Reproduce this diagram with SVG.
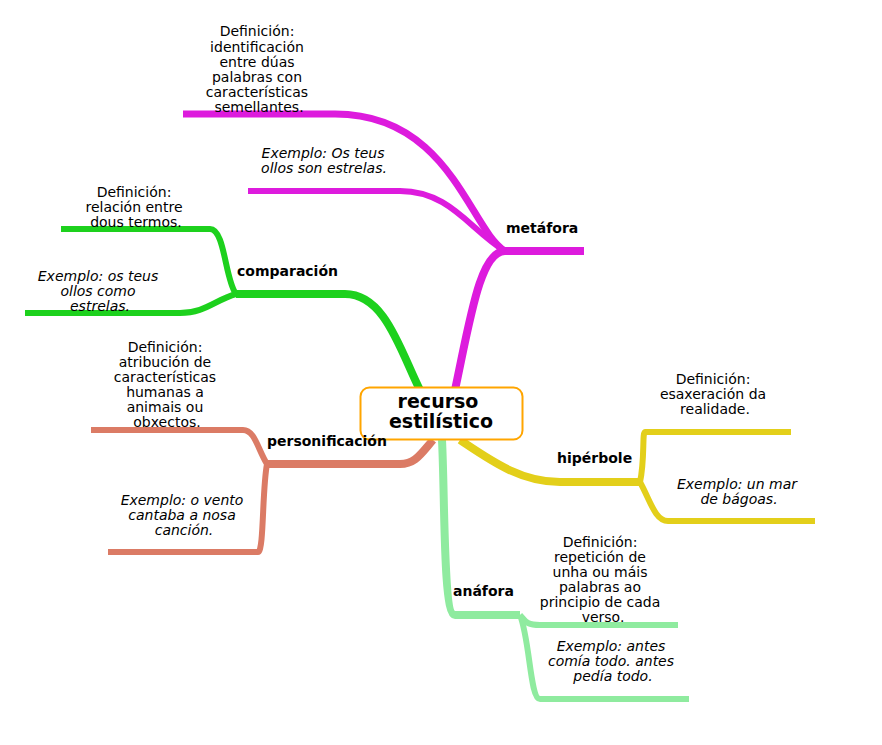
<svg xmlns="http://www.w3.org/2000/svg" width="882" height="745" viewBox="0 0 882 745">
<style>
.t{font-family:"DejaVu Sans",sans-serif;font-size:14px;text-anchor:middle;fill:#000}
.i{font-style:italic}
.b{font-weight:bold;font-size:14px;font-family:"DejaVu Sans",sans-serif}
.c{fill:none;stroke-linecap:butt}
</style>
<rect width="882" height="745" fill="#fff"/>
<g id="connectors">
<g stroke="#dd1bdd" class="c">
<path d="M455 390 C470 320 480 251 505 251 L584 251" stroke-width="8"/>
<path d="M505 251 C470 230 450 114 335 114 L183 114" stroke-width="7"/>
<path d="M505 251 C470 230 450 191 400 191 L248 191" stroke-width="6"/>
</g>
<g stroke="#1dd11d" class="c">
<path d="M420 390 C400 350 385 294 345 294 L236 294" stroke-width="8"/>
<path d="M236 294 C225 280 225 229 210 229 L61 229" stroke-width="6"/>
<path d="M236 294 C215 300 205 313 180 313 L25 313" stroke-width="6"/>
</g>
<g stroke="#db7b65" class="c">
<path d="M433 440 C420 455 415 464 400 464 L267 464" stroke-width="8"/>
<path d="M267 464 C258 450 255 430 243 430 L91 430" stroke-width="6"/>
<path d="M267 464 C262 490 264 552 258 552 L108 552" stroke-width="6"/>
</g>
<g stroke="#e3cf1a" class="c">
<path d="M460 440 C490 460 520 482 560 482 L640 482" stroke-width="8"/>
<path d="M640 482 C645 460 642 432 645 432 L791 432" stroke-width="6"/>
<path d="M640 482 C650 500 655 521 668 521 L815 521" stroke-width="6"/>
</g>
<g stroke="#8feb9f" class="c">
<path d="M442 440 C445 500 443 615 455 615 L520 615" stroke-width="8"/>
<path d="M520 615 C525 620 525 625 540 625 L678 625" stroke-width="6"/>
<path d="M520 615 C530 640 530 699 540 699 L689 699" stroke-width="6"/>
</g>
</g>
<g id="center"><rect x="360.500" y="387.500" width="162" height="52" rx="9" fill="#fff" stroke="#ffa500" stroke-width="2"/>
<text class="t" style="font-size:19px;font-weight:bold" x="438" y="408">recurso</text>
<text class="t" style="font-size:19px;font-weight:bold" x="441" y="428">estilístico</text></g>
<g id="metafora"><text class="b" x="506" y="233">metáfora</text>
<text class="t" x="257" y="36">Definición:</text><text class="t" x="257" y="52">identificación</text><text class="t" x="257" y="67">entre  dúas</text><text class="t" x="257" y="82">palabras  con</text><text class="t" x="257" y="97">características</text><text class="t" x="259" y="112">semellantes.</text>
<text class="t i" x="323" y="158">Exemplo:  Os  teus</text><text class="t i" x="324" y="173">ollos  son  estrelas.</text></g>
<g id="comparacion"><text class="b" x="237" y="276">comparación</text>
<text class="t" x="134" y="197">Definición:</text><text class="t" x="134" y="212">relación  entre</text><text class="t" x="136" y="227">dous  termos.</text>
<text class="t i" x="98" y="281">Exemplo:  os  teus</text><text class="t i" x="98" y="296">ollos  como</text><text class="t i" x="100" y="311">estrelas.</text></g>
<g id="personificacion"><text class="b" x="267" y="446">personificación</text>
<text class="t" x="165" y="352">Definición:</text><text class="t" x="165" y="367">atribución  de</text><text class="t" x="165" y="382">características</text><text class="t" x="165" y="397">humanas  a</text><text class="t" x="165" y="412">animais  ou</text><text class="t" x="167" y="427">obxectos.</text>
<text class="t i" x="182" y="505">Exemplo:  o  vento</text><text class="t i" x="182" y="520">cantaba  a  nosa</text><text class="t i" x="184" y="535">canción.</text></g>
<g id="hiperbole"><text class="b" x="557" y="463">hipérbole</text>
<text class="t" x="713" y="384">Definición:</text><text class="t" x="713" y="399">esaxeración  da</text><text class="t" x="715" y="414">realidade.</text>
<text class="t i" x="737" y="489">Exemplo:  un  mar</text><text class="t i" x="739" y="504">de  bágoas.</text></g>
<g id="anafora"><text class="b" x="453" y="596">anáfora</text>
<text class="t" x="600" y="547">Definición:</text><text class="t" x="600" y="562">repetición  de</text><text class="t" x="600" y="577">unha  ou  máis</text><text class="t" x="600" y="592">palabras  ao</text><text class="t" x="600" y="607">principio  de  cada</text><text class="t" x="603" y="622">verso.</text>
<text class="t i" x="611" y="651">Exemplo:  antes</text><text class="t i" x="611" y="666">comía  todo.  antes</text><text class="t i" x="613" y="681">pedía  todo.</text></g>
</svg>
